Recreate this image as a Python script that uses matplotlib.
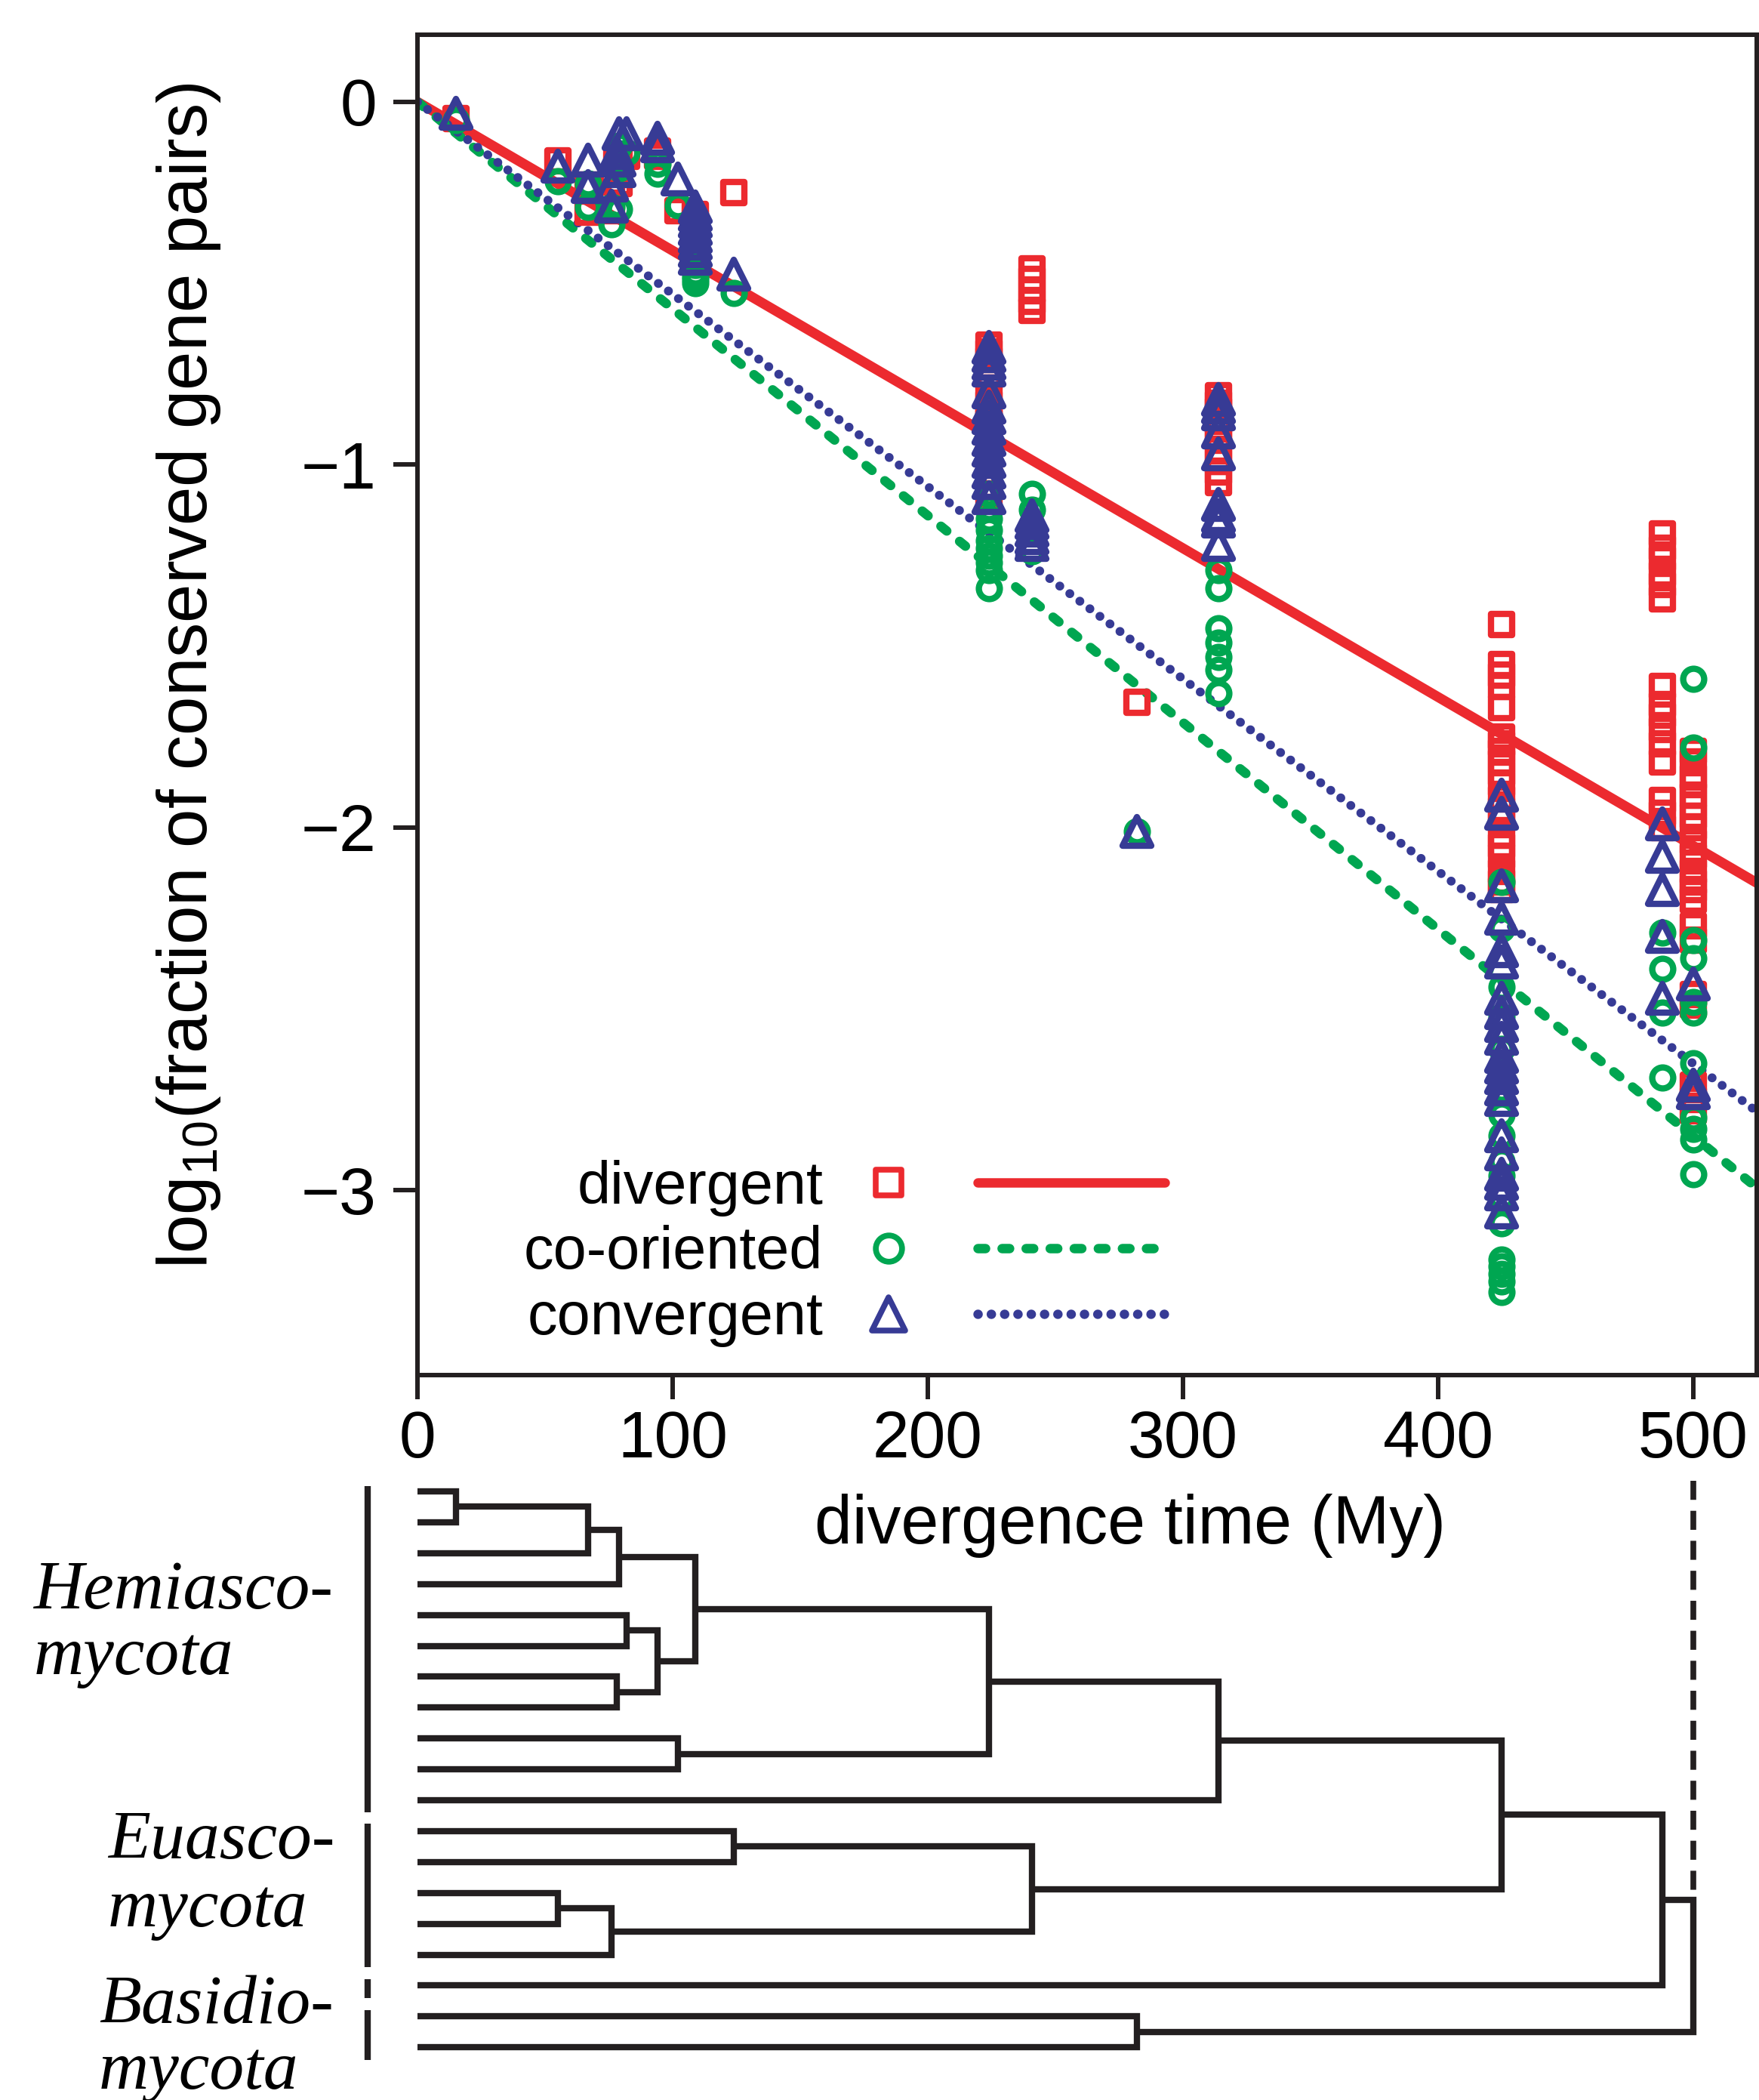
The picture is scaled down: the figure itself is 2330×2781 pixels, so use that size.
import numpy as np
import matplotlib
matplotlib.use("Agg")
from matplotlib import pyplot as plt
from matplotlib.legend_handler import HandlerBase
from matplotlib.lines import Line2D
from matplotlib.markers import MarkerStyle

plt.rcParams['font.family'] = ['Liberation Sans', 'DejaVu Sans']
plt.rcParams['mathtext.fontset'] = 'custom'
plt.rcParams['mathtext.rm'] = 'Liberation Sans'
plt.rcParams['mathtext.it'] = 'Liberation Sans:italic'

RED = '#ec2a2f'
GREEN = '#00a651'
BLUE = '#373b95'
INK = '#231f20'

# divergence times (My) of the tree nodes; one column of points per node
ages = [15, 55, 67, 76, 78, 79, 82, 94, 102, 109, 124, 224, 241, 282, 314, 425, 488, 500]

divergent = [
    [-0.045], [-0.163], [-0.23, -0.305], [-0.30, -0.22], [-0.15],
    [-0.19, -0.225, -0.16], [-0.15], [-0.135, -0.15], [-0.30],
    [-0.31, -0.33, -0.35, -0.37, -0.39, -0.41], [-0.25],
    [-0.67, -0.69, -0.71, -0.73, -0.76, -0.79, -0.83, -0.86, -0.88, -0.91,
     -0.94, -0.97, -1.00, -1.03, -1.06, -1.08],
    [-0.46, -0.49, -0.52, -0.55, -0.575],
    [-1.655],
    [-0.81, -0.83, -0.85, -0.88, -0.90, -0.93, -0.96, -0.99, -1.02, -1.05],
    [-1.44, -1.55, -1.58, -1.61, -1.67, -1.75, -1.77, -1.79, -1.82, -1.85,
     -1.88, -1.92, -1.95, -1.98, -2.02, -2.05, -2.08, -2.12, -2.15, -2.17],
    [-1.19, -1.23, -1.26, -1.30, -1.33, -1.37, -1.61, -1.66, -1.69, -1.73,
     -1.77, -1.82, -1.925, -1.96, -2.00],
    [-1.79, -1.82, -1.86, -1.88, -1.91, -1.94, -1.97, -2.00, -2.04, -2.08,
     -2.12, -2.15, -2.17, -2.20, -2.27, -2.31, -2.46, -2.49, -2.71, -2.75, -2.78],
]

co_oriented = [
    [-0.05], [-0.218], [-0.225, -0.29], [-0.337, -0.29], [-0.163],
    [-0.183, -0.295, -0.12], [-0.14], [-0.17, -0.198], [-0.285],
    [-0.43, -0.45, -0.47, -0.48, -0.49, -0.50], [-0.527],
    [-1.08, -1.12, -1.15, -1.18, -1.21, -1.23, -1.25, -1.27, -1.29, -1.34],
    [-1.08, -1.124, -1.238],
    [-2.01],
    [-1.29, -1.34, -1.45, -1.49, -1.53, -1.565, -1.63],
    [-2.15, -2.28, -2.44, -2.52, -2.61, -2.72, -2.79, -2.85, -2.92, -2.96,
     -3.02, -3.09, -3.19, -3.21, -3.23, -3.25, -3.28],
    [-2.29, -2.39, -2.51, -2.69],
    [-1.59, -1.78, -2.31, -2.36, -2.48, -2.51, -2.65, -2.80, -2.83, -2.86, -2.955],
]

convergent = [
    [-0.031], [-0.177], [-0.16, -0.233], [-0.288, -0.23], [-0.14],
    [-0.087, -0.19, -0.16], [-0.087], [-0.10, -0.12], [-0.212],
    [-0.29, -0.31, -0.33, -0.35, -0.37, -0.39, -0.41, -0.43], [-0.475],
    [-0.676, -0.70, -0.72, -0.74, -0.80, -0.84, -0.87, -0.90, -0.93, -0.96,
     -0.99, -1.02, -1.05, -1.09],
    [-1.14, -1.16, -1.18, -1.20, -1.22],
    [-2.01],
    [-0.82, -0.84, -0.86, -0.91, -0.97, -1.11, -1.14, -1.155, -1.22],
    [-1.91, -1.96, -2.16, -2.25, -2.34, -2.37, -2.47, -2.51, -2.545, -2.58,
     -2.63, -2.66, -2.69, -2.72, -2.75, -2.85, -2.90, -2.955, -2.98, -3.01, -3.06],
    [-1.99, -2.08, -2.17, -2.30, -2.47],
    [-2.43, -2.71, -2.73],
]

# slopes of the fitted lines through the origin (log10 units per My)
slope_div = -0.0041
slope_co = -0.0057
slope_conv = -0.0053

# species tree: (age, upper, lower), leaves are row numbers from the top
tree = (500,
        (488,
         (425,
          (314,
           (224,
            (109,
             (79, (67, (15, 0, 1), 2), 3),
             (94, (82, 4, 5), (78, 6, 7))),
            (102, 8, 9)),
           10),
          (241, (124, 11, 12), (76, (55, 13, 14), 15))),
         16),
        (282, 17, 18))

groups = [("Hemiasco-", "mycota"), ("Euasco-", "mycota"), ("Basidio-", "mycota")]


def flat(vals):
    xs = [a for a, v in zip(ages, vals) for _ in v]
    ys = [y for v in vals for y in v]
    return xs, ys


W, H, DPI = 2330, 2781, 100
fig = plt.figure(figsize=(W / DPI, H / DPI), dpi=DPI)

L, R, T, B = 553, 2327, 46, 1821
XMAX = 525
ax = fig.add_axes([L / W, 1 - B / H, (R - L) / W, (B - T) / H])
ax.set_xlim(0, XMAX)
ax.set_ylim(-3.509, 0.185)

xx = np.array([0, XMAX])
ax.plot(xx, slope_div * xx, color=RED, lw=9.5, solid_capstyle='round', zorder=2)
ax.plot(xx, slope_co * xx, color=GREEN, lw=9, ls=(0, (0.8, 1.75)), dash_capstyle='round', zorder=2)
ax.plot(xx, slope_conv * xx, color=BLUE, lw=8.5, ls=(0, (0.01, 1.4)), dash_capstyle='round', zorder=2)

sq = MarkerStyle('s', joinstyle='round')
ci = MarkerStyle('o')
tr = MarkerStyle('^', joinstyle='round')

x, y = flat(divergent)
ax.plot(x, y, ls='none', marker=sq, ms=20, mfc='none', mec=RED, mew=6, zorder=3)
x, y = flat(co_oriented)
ax.plot(x, y, ls='none', marker=ci, ms=20, mfc='none', mec=GREEN, mew=6, zorder=4)
x, y = flat(convergent)
ax.plot(x, y, ls='none', marker=tr, ms=27, mfc='none', mec=BLUE, mew=6, zorder=5)

ax.set_xticks([0, 100, 200, 300, 400, 500])
ax.set_yticks([0, -1, -2, -3])
ax.tick_params(axis='both', length=23, width=4.3, color=INK, labelsize=63)
ax.tick_params(axis='x', pad=10)
ax.tick_params(axis='y', pad=16)
for s in ax.spines.values():
    s.set_linewidth(4.3)
    s.set_color(INK)


class MarkLine(HandlerBase):
    def create_artists(self, legend, orig_handle, xdescent, ydescent,
                       width, height, fontsize, trans):
        col, mk, ms, ls = orig_handle
        yc = height / 2 - ydescent
        x0 = -xdescent
        dot = Line2D([x0 + 0.128 * width], [yc], ls='none', marker=mk, ms=ms,
                     mfc='none', mec=col, mew=5.5)
        seg = Line2D([x0 + 0.41 * width, x0 + width], [yc, yc], color=col, ls=ls,
                     lw=9, dash_capstyle='round', solid_capstyle='round')
        dot.set_transform(trans)
        seg.set_transform(trans)
        return [dot, seg]


handles = [(RED, sq, 24, '-'),
           (GREEN, ci, 25, (0, (0.8, 1.75))),
           (BLUE, tr, 31, (0, (0.01, 1.4)))]
ax.legend(handles, ['divergent', 'co-oriented', 'convergent'],
          handler_map={tuple: MarkLine()}, markerfirst=False, frameon=False,
          fontsize=57, handlelength=5.3, handletextpad=0.42, labelspacing=0.15,
          borderpad=0, borderaxespad=0, loc='center right',
          bbox_to_anchor=(1543 / W, 1 - 1660 / H), bbox_transform=fig.transFigure)

fig.text(250 / W, 1 - 895 / H, r'log$_{10}$(fraction of conserved gene pairs)',
         rotation=90, ha='center', va='center', fontsize=66.5)
fig.text(1497 / W, 1 - 2044 / H, 'divergence time (My)', ha='center',
         va='baseline', fontsize=64.5)

# tree panel, sharing the time scale of the plot above
px = (R - L) / XMAX
LEAF0, LEAF = 1975, 40.9
TOP = 1890
tax = fig.add_axes([0, 0, 1, (H - TOP) / H])
tax.set_xlim(-L / px, (W - L) / px)
tax.set_ylim((H - LEAF0) / LEAF, (TOP - LEAF0) / LEAF)
tax.axis('off')


def draw(node):
    if isinstance(node, int):
        return node, 0.0
    age, a, b = node
    ya, ta = draw(a)
    yb, tb = draw(b)
    ym = (ya + yb) / 2
    for yc, tc in ((ya, ta), (yb, tb)):
        tax.plot([tc, age, age], [yc, yc, ym], color=INK, lw=6,
                 solid_joinstyle='miter', solid_capstyle='butt')
    return ym, age


draw(tree)
tax.plot([500, 500], [-0.35, 12.9], color=INK, lw=5.5, ls=(0, (3.3, 1.9)))

bar_x = (487 - L) / px
bars = [[(-0.17, 10.39)], [(10.76, 15.40)], [(15.8, 16.4), (16.8, 18.4)]]
for segs in bars:
    for y0, y1 in segs:
        tax.plot([bar_x, bar_x], [y0, y1], color=INK, lw=6, solid_capstyle='butt')

label_x = [45, 143, 131]
label_base = [(2130, 2217), (2461, 2551), (2679, 2766)]
for (l1, l2), lx, (b1, b2) in zip(groups, label_x, label_base):
    for txt, bl in ((l1, b1), (l2, b2)):
        fig.text(lx / W, 1 - bl / H, txt, ha='left', va='baseline', fontsize=66,
                 family=['Liberation Serif', 'DejaVu Serif'], style='italic')

fig.savefig('out.png', dpi=DPI)
